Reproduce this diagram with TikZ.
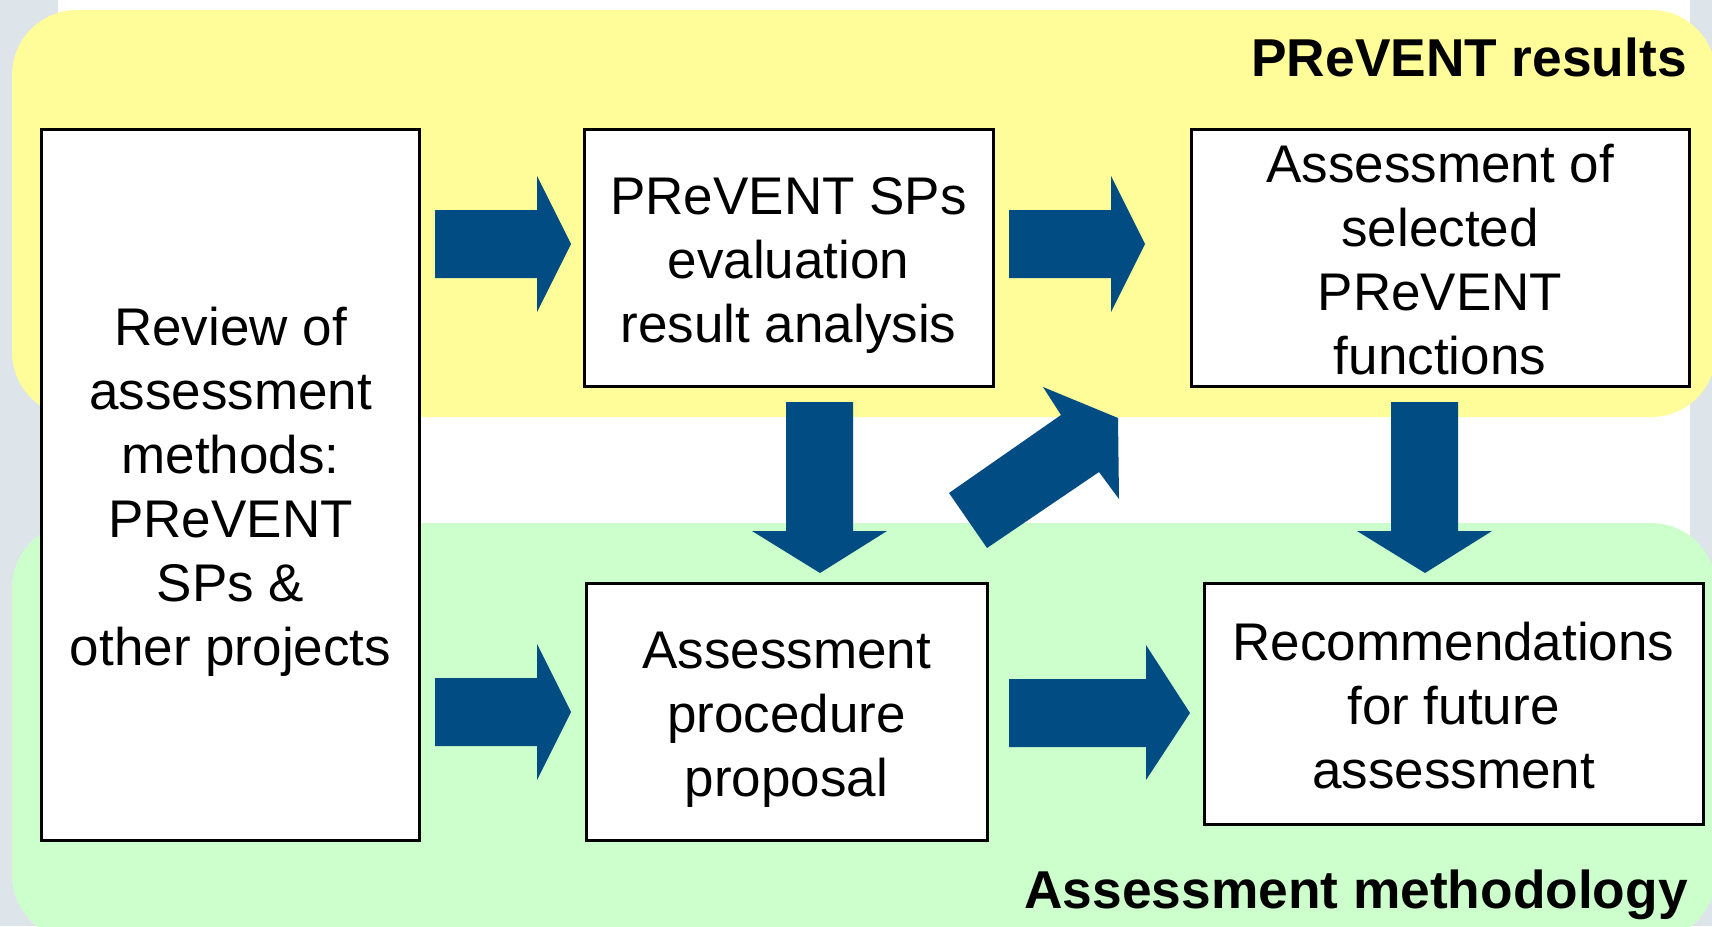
\documentclass[tikz,border=0pt]{standalone}
\usepackage{fontspec}
\setmainfont{Liberation Sans}
\definecolor{panelyellow}{RGB}{255,253,153}
\definecolor{panelgreen}{RGB}{204,255,204}
\definecolor{arrowblue}{RGB}{2,76,132}
\definecolor{sidegray}{RGB}{221,228,234}
\tikzset{
  stepbox/.style={draw=black, line width=3pt, fill=white, inner sep=0pt},
  steptext/.style={align=center, inner sep=0pt, font=\fontsize{53}{64}\selectfont},
  blockarrow/.style={fill=arrowblue, draw=none},
  paneltitle/.style={font=\fontsize{53.3}{64}\selectfont\bfseries, inner sep=0pt, anchor=base east},
}
\begin{document}
\begin{tikzpicture}[x=1pt,y=-1pt]
\useasboundingbox (0,0) rectangle (1712,926);
% background
\fill[white] (0,0) rectangle (1712,926);
\fill[sidegray] (0,0) rectangle (58,926);
\fill[sidegray] (1690,0) rectangle (1712,926);
% panels
\fill[panelyellow, rounded corners=65pt] (12,10) rectangle (1716,417);
\fill[panelgreen, rounded corners=65pt] (12,523) rectangle (1716,940);
% titles
\node[paneltitle] (t1) at (1687,76) {PReVENT results};
\node[paneltitle] (t2) at (1688,908) {Assessment methodology};
% boxes
\node[stepbox, minimum width=378pt, minimum height=711pt] (rev) at (230.5,485) {};
\node[stepbox, minimum width=409pt, minimum height=257pt] (eval) at (788.5,257.5) {};
\node[stepbox, minimum width=498pt, minimum height=257pt] (sel) at (1440,257.5) {};
\node[stepbox, minimum width=401pt, minimum height=257pt] (proc) at (786.5,712) {};
\node[stepbox, minimum width=499pt, minimum height=241pt] (rec) at (1453.5,704) {};
% texts
\node[steptext] (revt) at ([yshift=-7pt]rev.center) {Review of\\assessment\\methods:\\PReVENT\\SPs \&\\other projects};
\node[steptext] (evalt) at ([yshift=-8pt]eval.center) {PReVENT SPs\\evaluation\\result analysis};
\node[steptext] (selt) at ([yshift=-2pt]sel.center) {Assessment of\\selected\\PReVENT\\functions};
\node[steptext] (proct) at ([yshift=-8pt]proc.center) {Assessment\\procedure\\proposal};
\node[steptext] (rect) at ([yshift=-2pt]rec.center) {Recommendations\\for future\\assessment};
% block arrows
\fill[blockarrow] (435,210) -- (537,210) -- (537,176) -- (571,244) -- (537,312) -- (537,278) -- (435,278) -- cycle;
\fill[blockarrow] (1009,210) -- (1111,210) -- (1111,176) -- (1145,244) -- (1111,312) -- (1111,278) -- (1009,278) -- cycle;
\fill[blockarrow] (435,678) -- (537,678) -- (537,644) -- (571,712) -- (537,780) -- (537,746) -- (435,746) -- cycle;
\fill[blockarrow] (1009,679) -- (1146,679) -- (1146,645) -- (1190,713) -- (1146,780) -- (1146,747) -- (1009,747) -- cycle;
\fill[blockarrow] (786,402) -- (853,402) -- (853,531) -- (887,531) -- (820,573) -- (752,531) -- (786,531) -- cycle;
\fill[blockarrow] (1391,402) -- (1458,402) -- (1458,531) -- (1492,531) -- (1425,573) -- (1357,531) -- (1391,531) -- cycle;
\fill[blockarrow] (949,493) -- (1061,415) -- (1043,387) -- (1118,418) -- (1119,499) -- (1099,472) -- (987,548) -- cycle;
\end{tikzpicture}
\end{document}
